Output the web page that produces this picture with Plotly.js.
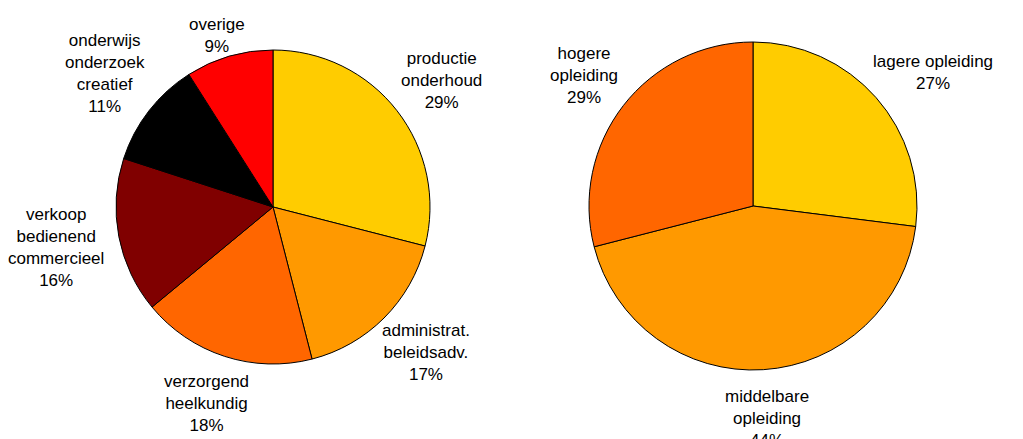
<!DOCTYPE html>
<html>
<head>
<meta charset="utf-8">
<script src="https://cdn.plot.ly/plotly-3.0.1.min.js"></script>
<style>html,body{margin:0;padding:0;background:#fff;}#chart{width:1023px;height:439px;}</style>
</head>
<body>
<div id="chart"></div>
<script>
// ---- data ----
const sectorLabels = ["productie<br>onderhoud", "administrat.<br>beleidsadv.", "verzorgend<br>heelkundig", "verkoop<br>bedienend<br>commercieel", "onderwijs<br>onderzoek<br>creatief", "overige"];
const sectorValues = [29, 17, 18, 16, 11, 9];
const sectorColors = ["#FFCC00", "#FF9900", "#FF6600", "#800000", "#000000", "#FF0000"];

const eduLabels = ["lagere opleiding", "middelbare<br>opleiding", "hogere<br>opleiding"];
const eduValues = [27, 44, 29];
const eduColors = ["#FFCC00", "#FF9900", "#FF6600"];

// ---- layout helpers ----
const W = 1023, H = 439;
const FONT = "Liberation Sans, Arial, sans-serif";
const FS = 17, LINE = FS * 1.3;

function dom(cx, cy, r) {
  return {x: [(cx - r) / W, (cx + r) / W], y: [(H - cy - r) / H, (H - cy + r) / H]};
}

const ctx = document.createElement("canvas").getContext("2d");
ctx.font = FS + "px 'Liberation Sans'";
function textBox(str) {
  const lines = str.split("<br>");
  let w = 0;
  lines.forEach(l => { w = Math.max(w, ctx.measureText(l).width); });
  return {w: w, h: lines.length * LINE};
}

// outside-end labels placed around a pie, from slice mid-angles (clockwise from 12 o'clock)
function pieLabels(labels, values, d) {
  const cx = (d.x[0] + d.x[1]) / 2 * W;
  const cy = (1 - (d.y[0] + d.y[1]) / 2) * H;
  const r = Math.min((d.x[1] - d.x[0]) * W, (d.y[1] - d.y[0]) * H) / 2;
  const gap = 16;
  const topMargin = 13;
  const total = values.reduce((a, b) => a + b, 0);
  let cum = 0;
  const out = [];
  values.forEach((v, i) => {
    const frac = (cum + v / 2) / total;
    cum += v;
    const th = 2 * Math.PI * frac;
    const ux = Math.sin(th), uy = -Math.cos(th);
    const txt = labels[i] + "<br>" + Math.round(v / total * 100) + "%";
    const b = textBox(txt);
    let x = cx + ux * (r + gap) + ux * b.w / 2;
    let y = cy + uy * (r + gap) + uy * b.h / 2;
    x = Math.max(b.w / 2 + 1, Math.min(W - b.w / 2 - 1, x));
    y = Math.max(topMargin + b.h / 2, y);
    out.push({
      text: txt, x: x / W, y: 1 - y / H, xref: "paper", yref: "paper",
      xanchor: "center", yanchor: "middle", showarrow: false, align: "center",
      font: {family: FONT, size: FS, color: "#000"}
    });
  });
  return out;
}

const dLeft = dom(273, 207, 157);
const dRight = dom(753, 206, 164);

const common = {
  type: "pie", sort: false, direction: "clockwise", rotation: 0,
  textinfo: "none", hoverinfo: "label+percent", showlegend: false
};

const data = [
  Object.assign({}, common, {
    labels: sectorLabels, values: sectorValues,
    marker: {colors: sectorColors, line: {color: "#000", width: 1}},
    domain: dLeft
  }),
  Object.assign({}, common, {
    labels: eduLabels, values: eduValues,
    marker: {colors: eduColors, line: {color: "#000", width: 1}},
    domain: dRight
  })
];

const layout = {
  width: W, height: H,
  margin: {l: 0, r: 0, t: 0, b: 0},
  paper_bgcolor: "#fff",
  showlegend: false,
  font: {family: FONT, size: FS, color: "#000"},
  annotations: pieLabels(sectorLabels, sectorValues, dLeft).concat(pieLabels(eduLabels, eduValues, dRight))
};

Plotly.newPlot("chart", data, layout, {displayModeBar: false, staticPlot: true});
</script>
</body>
</html>
